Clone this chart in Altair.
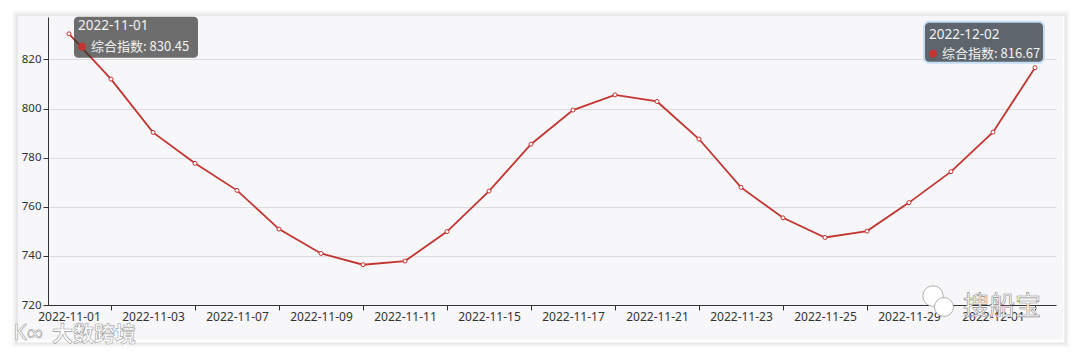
import altair as alt
import pandas as pd

# ---- data ----
dates = ["2022-11-01", "2022-11-02", "2022-11-03", "2022-11-04", "2022-11-07", "2022-11-08",
         "2022-11-09", "2022-11-10", "2022-11-11", "2022-11-14", "2022-11-15", "2022-11-16",
         "2022-11-17", "2022-11-18", "2022-11-21", "2022-11-22", "2022-11-23", "2022-11-24",
         "2022-11-25", "2022-11-28", "2022-11-29", "2022-11-30", "2022-12-01", "2022-12-02"]
values = [830.45, 812.0, 790.3, 777.7, 766.7, 750.9, 741.0, 736.4, 737.9, 749.9, 766.4, 785.5,
          799.4, 805.6, 802.9, 787.6, 767.9, 755.5, 747.5, 750.1, 761.7, 774.3, 790.4, 816.67]
y_ticks = [720, 740, 760, 780, 800, 820]
series_name = "综合指数"

label_dates = dates[0::2]
tick_dates = dates[1::2]

RED = "#c23531"
FONT = "Noto Sans"
CJK = "Noto Sans CJK SC"

df = pd.DataFrame({"date": dates, "value": values})

x_scale = alt.Scale(type="point", padding=0.5, domain=dates)
y_scale = alt.Scale(domain=[720, 837.3], nice=False, zero=False)
y_axis = alt.Axis(values=y_ticks, grid=True, gridColor="#dcdcdc", gridWidth=1, title=None,
                  tickSize=5, tickColor="#333333", domainColor="#333333",
                  labelFont=FONT, labelFontSize=11.5, labelColor="#333333", labelPadding=2)

W, H = 1008, 288


def deco():
    return alt.Chart(pd.DataFrame({"k": [0]}))


# ---- page / card decoration (outside the plot) ----
card = dict(x=-31, x2=1015, y=-2, y2=323)
margins = [
    deco().mark_rect(fill="white").encode(x=alt.value(-60), x2=alt.value(card["x"]), y=alt.value(-40), y2=alt.value(360)),
    deco().mark_rect(fill="white").encode(x=alt.value(card["x2"]), x2=alt.value(1060), y=alt.value(-40), y2=alt.value(360)),
    deco().mark_rect(fill="white").encode(x=alt.value(-60), x2=alt.value(1060), y=alt.value(-40), y2=alt.value(card["y"])),
    deco().mark_rect(fill="white").encode(x=alt.value(-60), x2=alt.value(1060), y=alt.value(card["y2"]), y2=alt.value(360)),
]
shadows = []
for i, op in enumerate([0.10, 0.07, 0.05, 0.035, 0.02, 0.01]):
    d = i + 1
    shadows.append(
        deco().mark_rect(fillOpacity=0, stroke="#000000", strokeOpacity=op, strokeWidth=1.2).encode(
            x=alt.value(card["x"] - d + 1), x2=alt.value(card["x2"] + d + 1),
            y=alt.value(card["y"] - d + 1), y2=alt.value(card["y2"] + d + 2))
    )

# ---- main series ----
base = alt.Chart(df)

line = base.mark_line(color=RED, strokeWidth=1.8).encode(
    x=alt.X("date:N", scale=x_scale, sort=dates, title=None,
            axis=alt.Axis(values=label_dates, labelAngle=0, tickSize=0, labelPadding=6,
                          labelFont=FONT, labelFontSize=12, labelColor="#333333",
                          domainColor="#333333", domainWidth=1, grid=False, orient="bottom")),
    y=alt.Y("value:Q", scale=y_scale, axis=y_axis),
)

points = base.mark_point(shape="circle", filled=True, fill="white", stroke=RED,
                         strokeWidth=1, size=16, opacity=1).encode(
    x=alt.X("date:N", scale=x_scale, sort=dates, title=None,
            axis=alt.Axis(values=tick_dates, labels=False, domain=False, tickSize=5,
                          tickColor="#333333", grid=False, orient="bottom")),
    y=alt.Y("value:Q", scale=y_scale, axis=y_axis),
)

# ---- tooltip boxes (anchored to first and last data points) ----
tip_specs = [
    dict(idx=0, box=(5, 129, -17, 24), date=(9, -8), dot=(13, 13), txt=(22, 13), glow=False),
    dict(idx=len(dates) - 1, box=(-110, 8, -45, -6), date=(-106, -33), dot=(-102, -14), txt=(-93, -14), glow=True),
]
tips = []
for s in tip_specs:
    tdf = pd.DataFrame({"date": [dates[s["idx"]]], "value": [values[s["idx"]]],
                        "label": [f"{series_name}: {values[s['idx']]:.2f}"]})
    tb = alt.Chart(tdf)
    bx0, bx1, by0, by1 = s["box"]
    xe = alt.X("date:N", scale=x_scale, sort=dates, axis=None)
    ye = alt.Y("value:Q", scale=y_scale, axis=y_axis)
    enc = dict(x=xe, x2="date:N", y=ye, y2="value:Q")
    if s["glow"]:
        tips.append(tb.mark_rect(fill="#9ccbf2", opacity=0.55, cornerRadius=6,
                                 xOffset=bx0 - 2, x2Offset=bx1 + 2, yOffset=by0 - 2,
                                 y2Offset=by1 + 2).encode(**enc))
    tips.append(tb.mark_rect(fill="#323232", opacity=0.7, cornerRadius=4,
                             xOffset=bx0, x2Offset=bx1, yOffset=by0, y2Offset=by1).encode(**enc))
    pos = dict(x=xe, y=ye)
    tips.append(tb.mark_text(align="left", baseline="middle", font=FONT, fontSize=13.5,
                             color="#f2f2f2", dx=s["date"][0], dy=s["date"][1]).encode(
        text="date:N", **pos))
    tips.append(tb.mark_point(shape="circle", filled=True, color=RED, size=64, opacity=1,
                              xOffset=s["dot"][0], yOffset=s["dot"][1]).encode(**pos))
    tips.append(tb.mark_text(align="left", baseline="middle", font=CJK, fontSize=13,
                             color="#f2f2f2", dx=s["txt"][0], dy=s["txt"][1]).encode(
        text="label:N", **pos))

# ---- watermarks ----
WM_STROKE = "#a0a0a0"
marks_wm = [
    deco().mark_text(text="大数跨境", font=CJK, fontSize=21, fontWeight="bold", fill="white",
                     stroke=WM_STROKE, strokeWidth=0.6, align="center", baseline="middle").encode(
        x=alt.value(46), y=alt.value(318)),
    deco().mark_text(text="K∞", font=FONT, fontSize=22, fill="white",
                     stroke=WM_STROKE, strokeWidth=0.6, align="center", baseline="middle").encode(
        x=alt.value(-20), y=alt.value(316)),
    # wechat-like bubbles
    deco().mark_point(shape="circle", filled=True, fill="white", stroke=WM_STROKE, strokeWidth=0.8,
                      size=420, opacity=1).encode(x=alt.value(885), y=alt.value(279)),
    deco().mark_point(shape="circle", filled=True, fill="white", stroke=WM_STROKE, strokeWidth=0.8,
                      size=360, opacity=1).encode(x=alt.value(896), y=alt.value(290)),
    deco().mark_text(text="搜船宝", font=CJK, fontSize=26, fill="white",
                     stroke="#8a8a8a", strokeWidth=0.6, align="center", baseline="middle").encode(
        x=alt.value(954), y=alt.value(290)),
]

chart = alt.layer(*margins, *shadows, line, points, *tips, *marks_wm).resolve_axis(
    x="independent"
).properties(
    width=W, height=H, background="#f7f7f9",
    padding={"left": 48, "top": 17, "right": 24, "bottom": 50},
    autosize=alt.AutoSizeParams(type="none"),
).configure_view(stroke=None)

chart.save("out.html", embed_options={"renderer": "svg", "actions": False})
